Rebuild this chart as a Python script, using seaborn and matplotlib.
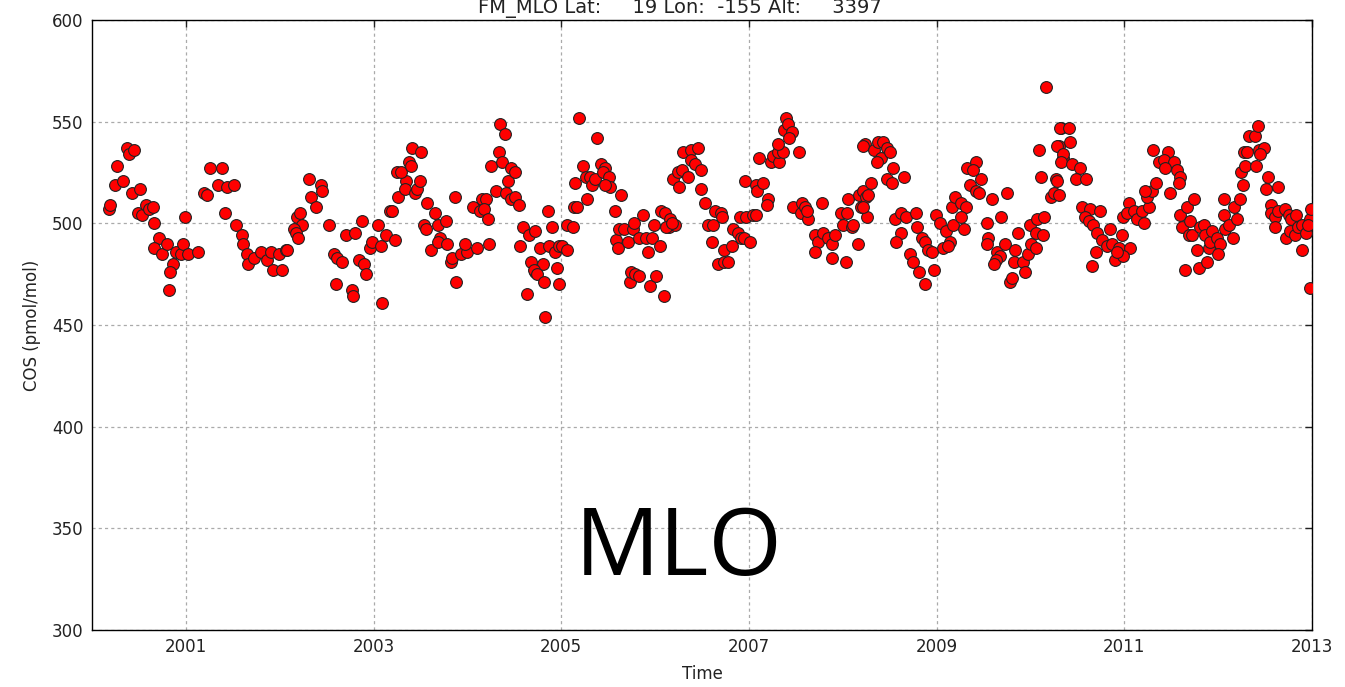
import numpy as np
import pandas as pd
import seaborn as sns
import matplotlib
matplotlib.use("Agg")
import matplotlib.pyplot as plt

# COS at Mauna Loa (decimal year, pmol/mol)
years = [
    2000.18, 2000.19, 2000.25, 2000.33, 2000.27, 2000.37, 2000.39, 2000.45, 2000.43, 2000.51,
    2000.49, 2000.53, 2000.58, 2000.61, 2000.65, 2000.66, 2000.71, 2000.66, 2000.75, 2000.80,
    2000.86, 2000.83, 2000.82, 2000.89, 2000.95, 2000.97, 2001.02, 2001.13, 2000.99, 2001.19,
    2001.23, 2001.26, 2001.38, 2001.34, 2001.44, 2001.51, 2001.42, 2001.53, 2001.60, 2001.61,
    2001.65, 2001.66, 2001.73, 2001.80, 2001.87, 2001.91, 2001.93, 2001.99, 2002.02, 2002.07,
    2002.08, 2002.18, 2002.22, 2002.24, 2002.15, 2002.17, 2002.19, 2002.31, 2002.33, 2002.39,
    2002.44, 2002.45, 2002.53, 2002.58, 2002.61, 2002.66, 2002.60, 2002.71, 2002.80, 2002.88,
    2002.77, 2002.78, 2002.85, 2002.90, 2002.92, 2002.96, 2002.98, 2003.08, 2003.05, 2003.09,
    2003.13, 2003.23, 2003.18, 2003.20, 2003.26, 2003.35, 2003.33, 2003.25, 2003.29, 2003.38,
    2003.40, 2003.41, 2003.51, 2003.44, 2003.46, 2003.49, 2003.57, 2003.54, 2003.56, 2003.66,
    2003.61, 2003.69, 2003.77, 2003.71, 2003.69, 2003.78, 2003.87, 2003.82, 2003.84, 2003.93,
    2004.00, 2003.97, 2004.10, 2003.88, 2004.06, 2004.13, 2004.18,
    2004.23, 2004.16, 2004.20, 2004.18, 2004.22, 2004.25, 2004.30, 2004.34, 2004.37, 2004.35,
    2004.40, 2004.41, 2004.43, 2004.46, 2004.51, 2004.46, 2004.51, 2004.55, 2004.56, 2004.59,
    2004.66, 2004.72, 2004.63, 2004.68, 2004.72, 2004.81, 2004.71, 2004.74, 2004.77, 2004.87,
    2004.93, 2004.98, 2005.01, 2005.06, 2004.82, 2004.83, 2004.86, 2004.90, 2004.96, 2004.98,
    2005.06, 2005.12, 2005.19, 2005.15, 2005.14, 2005.17, 2005.27, 2005.23, 2005.26, 2005.31,
    2005.33, 2005.36, 2005.38, 2005.42, 2005.47, 2005.45, 2005.51, 2005.52, 2005.47, 2005.64,
    2005.57, 2005.58, 2005.62, 2005.60, 2005.67, 2005.71, 2005.76, 2005.78, 2005.87, 2005.73,
    2005.74, 2005.79, 2005.83, 2005.83, 2005.90, 2005.97, 2005.99, 2005.92, 2005.95, 2006.01,
    2006.09, 2006.05, 2006.06, 2006.11, 2006.16, 2006.15, 2006.21, 2006.12, 2006.19, 2006.24,
    2006.18, 2006.26, 2006.29, 2006.35, 2006.30, 2006.38, 2006.46, 2006.38, 2006.43, 2006.49,
    2006.49, 2006.53, 2006.56, 2006.62, 2006.64, 2006.70, 2006.71, 2006.61, 2006.73, 2006.82,
    2006.67, 2006.73, 2006.78, 2006.83, 2006.88, 2006.92, 2006.95, 2007.01, 2006.90, 2006.97,
    2007.04, 2007.07, 2006.96, 2007.07, 2007.09, 2007.15, 2007.20, 2007.19, 2007.11, 2007.23,
    2007.26, 2007.32, 2007.31, 2007.36, 2007.31, 2007.37, 2007.39, 2007.42, 2007.46, 2007.43,
    2007.53, 2007.47, 2007.55, 2007.57, 2007.60, 2007.63, 2007.62, 2007.78, 2007.70, 2007.74,
    2007.79, 2007.84, 2007.89, 2007.92, 2007.70, 2007.89, 2008.03, 2007.98, 2008.05, 2008.06,
    2008.00, 2008.10, 2008.16, 2008.11, 2008.19, 2008.17, 2008.22, 2008.26, 2008.30, 2008.24,
    2008.22, 2008.33, 2008.38, 2008.43, 2008.47, 2008.41, 2008.36, 2008.50, 2008.25, 2008.27,
    2008.22, 2008.54, 2008.47, 2008.52, 2008.65, 2008.56, 2008.62, 2008.67, 2008.78, 2008.79,
    2008.62, 2008.57, 2008.72, 2008.75, 2008.81, 2008.88, 2008.97, 2008.84, 2008.88, 2008.91,
    2008.95, 2008.99, 2009.04, 2009.10, 2009.07, 2009.14, 2009.12, 2009.16, 2009.20, 2009.26,
    2009.31, 2009.17, 2009.26, 2009.29, 2009.32, 2009.42, 2009.39, 2009.36, 2009.42, 2009.45,
    2009.47, 2009.59, 2009.75, 2009.54, 2009.69, 2009.55, 2009.54, 2009.64, 2009.68, 2009.63,
    2009.61, 2009.73, 2009.78, 2009.80, 2009.84, 2009.82, 2009.87, 2009.92, 2009.94, 2009.97,
    2010.01, 2010.06, 2010.00, 2010.07, 2010.14, 2010.06, 2010.13, 2010.09, 2010.11, 2010.16,
    2010.22, 2010.25, 2010.27, 2010.30, 2010.32, 2010.35,
    2010.31, 2010.41, 2010.42, 2010.28, 2010.35, 2010.33, 2010.44, 2010.53, 2010.49, 2010.59,
    2010.28, 2010.30, 2010.55, 2010.63, 2010.74, 2010.58, 2010.62, 2010.67, 2010.71, 2010.76,
    2010.85, 2010.81, 2010.87, 2010.94, 2010.97, 2011.06, 2010.70, 2010.65, 2010.90, 2010.99,
    2010.92, 2010.99, 2011.05, 2011.03, 2011.10, 2011.13, 2011.21, 2011.19, 2011.26, 2011.24,
    2011.29, 2011.34, 2011.22, 2011.31, 2011.47, 2011.37, 2011.42, 2011.53, 2011.43, 2011.56,
    2011.59, 2011.58, 2011.49, 2011.59, 2011.61, 2011.67, 2011.70, 2011.74, 2011.69, 2011.72,
    2011.77, 2011.81, 2011.85, 2011.86, 2011.90, 2011.91, 2011.93, 2011.99, 2012.02, 2012.00,
    2011.65, 2011.80, 2011.88, 2012.06, 2012.06, 2012.07, 2012.12, 2012.16, 2012.20, 2012.17,
    2012.23, 2012.24, 2012.26, 2012.29, 2012.28, 2012.31, 2012.33, 2012.39, 2012.42, 2012.40,
    2012.44, 2012.49, 2012.45, 2012.53, 2012.51, 2012.64, 2012.56, 2012.56, 2012.61, 2012.61,
    2012.64, 2012.71, 2012.75, 2012.78, 2012.72, 2012.77, 2012.83, 2012.82, 2012.85, 2012.89,
    2012.94, 2012.98, 2012.99, 2012.96, 2012.89, 2012.98,
]
cos_vals = [
    507, 509, 519, 521, 528, 537, 534, 536, 515, 517,
    505, 504, 509, 507, 508, 500, 493, 488, 485, 490,
    480, 476, 467, 486, 485, 490, 485, 486, 503, 515,
    514, 527, 527, 519, 518, 519, 505, 499, 494, 490,
    485, 480, 483, 486, 482, 486, 477, 485, 477, 487,
    487, 503, 505, 499, 497, 495, 493, 522, 513, 508,
    519, 516, 499, 485, 483, 481, 470, 494, 495, 501,
    467, 464, 482, 480, 475, 488, 491, 489, 499, 461,
    494, 492, 506, 506, 513, 521, 517, 525, 525, 530,
    528, 537, 535, 515, 517, 521, 510, 499, 497, 505,
    487, 499, 501, 493, 491, 490, 513, 481, 483, 485,
    486, 490, 488, 471, 508, 506, 511,
    490, 512, 512, 507, 502, 528, 516, 535, 530, 549,
    544, 515, 521, 527, 525, 512, 513, 509, 489, 498,
    494, 496, 465, 481, 476, 480, 477, 475, 488, 489,
    486, 489, 489, 487, 471, 454, 506, 498, 478, 470,
    499, 498, 552, 520, 508, 508, 512, 528, 523, 523,
    519, 522, 542, 529, 527, 525, 523, 518, 519, 514,
    506, 492, 497, 488, 497, 491, 497, 500, 504, 471,
    476, 475, 474, 493, 493, 493, 499, 486, 469, 474,
    464, 489, 506, 505, 502, 498, 499, 498, 522, 525,
    500, 518, 526, 523, 535, 536, 537, 531, 529, 526,
    517, 510, 499, 499, 506, 505, 503, 491, 487, 489,
    480, 481, 481, 497, 495, 493, 493, 491, 503, 503,
    504, 504, 521, 519, 516, 520, 512, 509, 532, 530,
    533, 530, 535, 535, 539, 546, 552, 549, 545, 542,
    535, 508, 505, 510, 508, 502, 506, 510, 494, 491,
    495, 493, 490, 494, 486, 483, 481, 505, 505, 512,
    499, 498, 490, 499, 508, 514, 516, 503, 520, 539,
    538, 536, 540, 540, 537, 532, 530, 535, 513, 514,
    508, 527, 522, 520, 523, 502, 505, 503, 505, 498,
    495, 491, 485, 481, 476, 470, 477, 493, 491, 487,
    486, 504, 500, 496, 488, 491, 489, 508, 513, 510,
    508, 499, 503, 497, 527, 530, 526, 519, 516, 515,
    522, 512, 515, 500, 503, 493, 490, 486, 484, 482,
    480, 490, 471, 473, 487, 481, 495, 481, 476, 485,
    490, 488, 499, 502, 503, 495, 494, 536, 523, 567,
    513, 515, 522, 538, 547, 532,
    547, 547, 540, 538, 534, 530, 529, 527, 522, 522,
    521, 514, 508, 507, 506, 503, 501, 499, 495, 492,
    497, 489, 490, 488, 494, 488, 486, 479, 482, 484,
    486, 503, 510, 505, 506, 502, 500, 506, 508, 513,
    516, 520, 516, 536, 535, 530, 531, 530, 527, 526,
    523, 520, 515, 504, 498, 508, 501, 512, 494, 494,
    487, 498, 499, 494, 488, 491, 496, 493, 490, 485,
    477, 478, 481, 512, 504, 497, 499, 493, 502, 508,
    512, 525, 519, 528, 535, 535, 543, 543, 548, 528,
    536, 537, 534, 523, 517, 518, 509, 505, 503, 498,
    506, 507, 504, 502, 493, 496, 504, 494, 498, 499,
    495, 502, 507, 499, 487, 468,
]

df = pd.DataFrame({"Time": years, "COS": cos_vals})

sns.set_style("white")
plt.rcParams["font.family"] = ["DejaVu Sans"]

fig = plt.figure(figsize=(13.45, 6.87), dpi=100)
ax = fig.add_axes([0.0684, 0.083, 0.9071, 0.888])

sns.scatterplot(data=df, x="Time", y="COS", color="red", edgecolor="#222222",
                linewidth=0.8, s=72, ax=ax, zorder=3)

ax.set_xlim(2000, 2013)
ax.set_ylim(300, 600)
ax.set_xticks(np.arange(2001, 2014, 2))
ax.set_xticklabels([str(y) for y in range(2001, 2014, 2)])
ax.set_yticks(np.arange(300, 601, 50))
ax.grid(True, color="#aaaaaa", linestyle=(0, (2.5, 2.5)), linewidth=0.9)
ax.tick_params(direction="in", length=5, width=1, top=True, right=True,
               labelsize=12, colors="#222222", pad=6)
for sp in ax.spines.values():
    sp.set_color("black")
    sp.set_linewidth(1.0)

ax.set_xlabel("Time", fontsize=12, color="#222222", labelpad=6)
ax.set_ylabel("COS (pmol/mol)", fontsize=12, color="#222222", labelpad=8)
ax.set_title("FM_MLO Lat:     19 Lon:  -155 Alt:     3397", fontsize=14,
             color="#222222", x=0.482, pad=5)

ax.text(0.481, 0.13, "MLO", transform=ax.transAxes, fontsize=68,
        ha="center", va="center", color="black", family="Open Sans")

fig.savefig("out.png", dpi=100)
